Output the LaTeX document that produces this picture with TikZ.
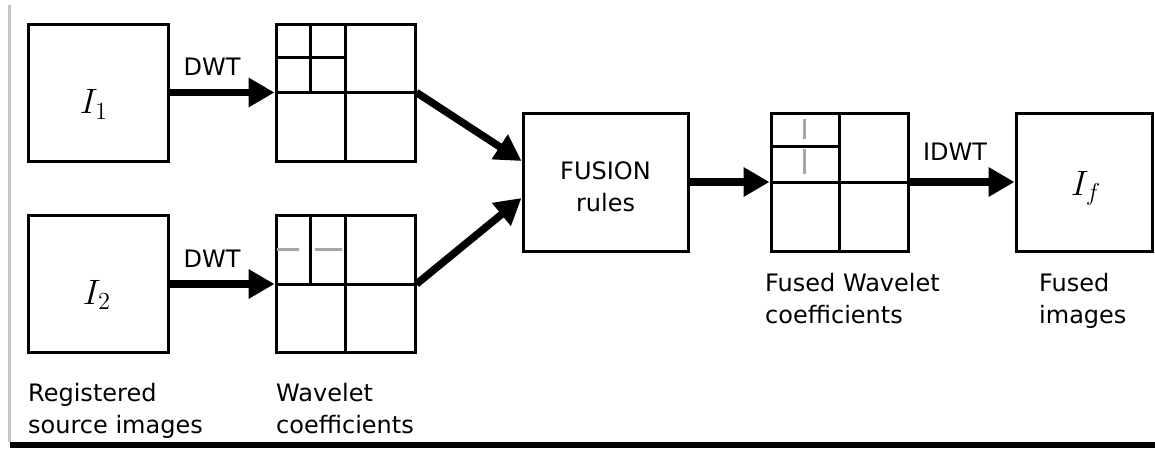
\documentclass[tikz,border=0pt]{standalone}
\usepackage{fontspec}
\setmainfont{DejaVu Sans}
\usetikzlibrary{arrows.meta,calc}
\begin{document}
\begin{tikzpicture}[x=1pt, y=-1pt,
  frame/.style={draw=black, line width=3pt},
  imgbox/.style={frame, minimum width=140pt, minimum height=137pt, inner sep=0pt},
  coefbox/.style={frame, minimum width=139pt, minimum height=137pt, inner sep=0pt},
  fusebox/.style={frame, minimum width=165pt, minimum height=138pt, inner sep=0pt},
  subband/.style={line width=3pt},
  faint/.style={line width=3pt, draw=gray!70},
  bigarrow/.style={line width=7.5pt, -{Triangle[length=26pt,width=28pt]}},
  lbl/.style={font=\fontsize{24}{32}\selectfont, inner sep=0pt},
  sym/.style={font=\huge, scale=1.7, inner sep=0pt}]
\useasboundingbox (0,0) rectangle (1155,448);

% outer panel edges
\draw[gray!45, line width=3pt] (9.5,5) -- (9.5,442);
\fill[black] (10,442) rectangle (1155,448);

% source images
\node[imgbox] (i1) at (98,92.5) {};
\node[imgbox] (i2) at (98,284) {};
\node[sym] (s1) at ($(i1.center)+(-4,12)$) {$I_1$};
\node[sym] (s2) at ($(i2.center)+(-1,11)$) {$I_2$};

% wavelet decompositions
\node[coefbox] (w1) at (345.5,92.5) {};
\node[coefbox] (w2) at (345.5,284) {};
\draw[subband] (w1.north) -- (w1.south);
\draw[subband] (w1.west) -- (w1.east);
\draw[subband] ($(w1.north west)!0.5!(w1.north)$) -- ($(w1.west)!0.5!(w1.center)$);
\draw[subband] ($(w1.north west)!0.5!(w1.west)$) -- ($(w1.north)!0.5!(w1.center)$);

\draw[subband] (w2.north) -- (w2.south);
\draw[subband] (w2.west) -- (w2.east);
\draw[subband] ($(w2.north west)!0.5!(w2.north)$) -- ($(w2.west)!0.5!(w2.center)$);
\coordinate (w2q) at ($(w2.north west)!0.5!(w2.west)$);
\draw[faint] ($(w2q)+(2,0)$) -- ++(22,0);
\draw[faint] ($(w2q)+(40,0)$) -- ++(27,0);

% fusion
\node[fusebox] (fus) at (605.5,182) {};
\node[lbl, align=center] (ft) at ($(fus.center)+(0,5)$) {FUSION\\rules};

% fused coefficients
\node[coefbox, minimum width=137pt, minimum height=138pt] (fw) at (839.5,182) {};
\draw[subband] (fw.north) -- (fw.south);
\draw[subband] (fw.west) -- (fw.east);
\draw[subband] ($(fw.north west)!0.5!(fw.west)$) -- ($(fw.north)!0.5!(fw.center)$);
\coordinate (fwq) at ($(fw.north west)!0.5!(fw.north)$);
\draw[faint] ($(fwq)+(0,7)$) -- ++(0,20);
\draw[faint] ($(fwq)+(0,37)$) -- ++(0,25);

% fused image
\node[imgbox, minimum width=136pt, minimum height=138pt] (fi) at (1084,182) {};
\node[sym] (sf) at ($(fi.center)+(2,6.5)$) {$I_f$};

% transforms
\draw[bigarrow] (i1.east) -- (w1.west)
  node[lbl, midway, xshift=-10pt, yshift=26pt] {DWT};
\draw[bigarrow] (i2.east) -- (w2.west)
  node[lbl, midway, xshift=-10pt, yshift=25pt] {DWT};
\draw[bigarrow] (w1.east) -- ($(fus.west)+(0,-21)$);
\draw[bigarrow] (w2.east) -- ($(fus.west)+(0,16)$);
\draw[bigarrow] (fus.east) -- (fw.west);
\draw[bigarrow] (fw.east) -- (fi.west)
  node[lbl, midway, xshift=-7pt, yshift=30pt] {IDWT};

% captions (base anchor sits on the last line)
\node[lbl, anchor=base west, align=left] (c1) at (28,433) {Registered\\source images};
\node[lbl, anchor=base west, align=left] (c2) at (276,433) {Wavelet\\coefficients};
\node[lbl, anchor=base west, align=left] (c3) at (765,323) {Fused Wavelet\\coefficients};
\node[lbl, anchor=base west, align=left] (c4) at (1039,323) {Fused\\images};
\end{tikzpicture}
\end{document}
